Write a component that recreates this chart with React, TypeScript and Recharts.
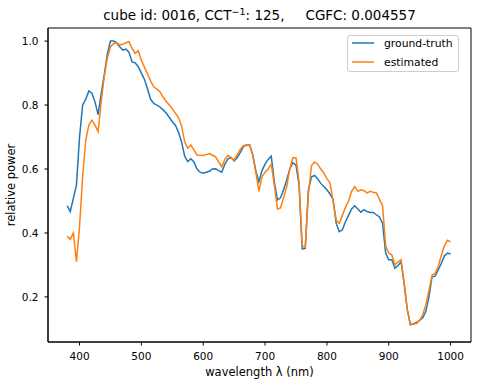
import React from 'react';
import { LineChart, Line, XAxis, YAxis, ReferenceArea } from 'recharts';

const wavelengths = [
  380, 385, 390, 395, 400, 405, 410, 415, 420, 425,
  430, 435, 440, 445, 450, 455, 460, 465, 470, 475,
  480, 485, 490, 495, 500, 505, 510, 515, 520, 525,
  530, 535, 540, 545, 550, 555, 560, 565, 570, 575,
  580, 585, 590, 595, 600, 605, 610, 615, 620, 625,
  630, 635, 640, 645, 650, 655, 660, 665, 670, 675,
  680, 685, 690, 695, 700, 705, 710, 715, 720, 725,
  730, 735, 740, 745, 750, 755, 760, 765, 770, 775,
  780, 785, 790, 795, 800, 805, 810, 815, 820, 825,
  830, 835, 840, 845, 850, 855, 860, 865, 870, 875,
  880, 885, 890, 895, 900, 905, 910, 915, 920, 925,
  930, 935, 940, 945, 950, 955, 960, 965, 970, 975,
  980, 985, 990, 995, 1000,
];

const groundTruth = [
  0.485, 0.467, 0.508, 0.55, 0.70, 0.80, 0.818, 0.844, 0.837, 0.81,
  0.77, 0.835, 0.895, 0.96, 1.0, 1.0, 0.995, 0.982, 0.972, 0.975,
  0.965, 0.935, 0.932, 0.92, 0.90, 0.88, 0.85, 0.818, 0.805, 0.80,
  0.794, 0.785, 0.775, 0.762, 0.748, 0.737, 0.715, 0.685, 0.64, 0.623,
  0.632, 0.622, 0.60, 0.59, 0.587, 0.59, 0.593, 0.60, 0.601, 0.595,
  0.59, 0.615, 0.632, 0.636, 0.625, 0.635, 0.652, 0.67, 0.675, 0.675,
  0.645, 0.595, 0.56, 0.595, 0.615, 0.63, 0.64, 0.56, 0.503, 0.51,
  0.535, 0.566, 0.60, 0.62, 0.612, 0.55, 0.35, 0.352, 0.534, 0.575,
  0.58, 0.57, 0.555, 0.545, 0.535, 0.522, 0.505, 0.43, 0.404, 0.41,
  0.435, 0.455, 0.475, 0.485, 0.475, 0.465, 0.473, 0.467, 0.464, 0.464,
  0.457, 0.45, 0.43, 0.337, 0.316, 0.316, 0.29, 0.298, 0.31, 0.24,
  0.16, 0.113, 0.116, 0.12, 0.127, 0.135, 0.155, 0.20, 0.263, 0.265,
  0.285, 0.305, 0.328, 0.337, 0.334,
];

const estimated = [
  0.39, 0.38, 0.40, 0.31, 0.42, 0.576, 0.69, 0.737, 0.753, 0.737,
  0.717, 0.81, 0.89, 0.948, 0.982, 0.992, 0.995, 0.988, 0.99, 0.995,
  0.998, 0.977, 0.962, 0.97, 0.94, 0.918, 0.897, 0.875, 0.857, 0.85,
  0.842, 0.825, 0.812, 0.80, 0.788, 0.775, 0.76, 0.735, 0.685, 0.665,
  0.675, 0.66, 0.644, 0.643, 0.642, 0.645, 0.648, 0.643, 0.638, 0.622,
  0.607, 0.63, 0.643, 0.635, 0.628, 0.645, 0.662, 0.673, 0.675, 0.675,
  0.645, 0.59, 0.53, 0.576, 0.59, 0.60, 0.615, 0.55, 0.475, 0.478,
  0.51, 0.545, 0.60, 0.635, 0.635, 0.56, 0.36, 0.355, 0.52, 0.61,
  0.622, 0.615, 0.60, 0.587, 0.57, 0.556, 0.50, 0.44, 0.43, 0.455,
  0.48, 0.50, 0.53, 0.545, 0.53, 0.535, 0.532, 0.525, 0.53, 0.527,
  0.525, 0.505, 0.485, 0.36, 0.337, 0.331, 0.30, 0.31, 0.316, 0.24,
  0.16, 0.113, 0.115, 0.117, 0.127, 0.145, 0.175, 0.22, 0.268, 0.274,
  0.295, 0.33, 0.36, 0.377, 0.372,
];

const xTicks = [400, 500, 600, 700, 800, 900, 1000];
const yTicks = [0.2, 0.4, 0.6, 0.8, 1.0];

const seriesNames = { gt: 'ground-truth', est: 'estimated' };
const colors = { gt: '#1f77b4', est: '#ff7f0e' };

const data = wavelengths.map((w, i) => ({ w, gt: groundTruth[i], est: estimated[i] }));

const FONT = "'DejaVu Sans', sans-serif";
const X_DOMAIN: [number, number] = [349, 1033];
const Y_DOMAIN: [number, number] = [0.059, 1.041];

export default function App() {
  const tickStyle = { fill: '#000', fontSize: 10.5, fontFamily: FONT };
  return (
    <div style={{ position: 'absolute', left: 0, top: 0, width: 480, height: 385, background: '#fff' }}>
      <LineChart width={480} height={385} data={data} margin={{ top: 28, right: 9, bottom: 13, left: 8 }}>
        <XAxis
          dataKey="w"
          type="number"
          domain={X_DOMAIN}
          ticks={xTicks}
          interval={0}
          allowDataOverflow
          height={30}
          tickSize={3.5}
          tickMargin={7}
          stroke="#000"
          tick={tickStyle}
        />
        <YAxis
          type="number"
          domain={Y_DOMAIN}
          ticks={yTicks}
          interval={0}
          allowDataOverflow
          width={40}
          tickSize={3.5}
          tickMargin={6}
          tickFormatter={(v: number) => v.toFixed(1)}
          stroke="#000"
          tick={tickStyle}
        />
        <ReferenceArea
          x1={X_DOMAIN[0]}
          x2={X_DOMAIN[1]}
          y1={Y_DOMAIN[0]}
          y2={Y_DOMAIN[1]}
          fill="none"
          fillOpacity={0}
          stroke="#000"
          strokeWidth={1}
          ifOverflow="visible"
        />
        <Line
          type="linear"
          dataKey="gt"
          name={seriesNames.gt}
          stroke={colors.gt}
          strokeWidth={1.5}
          dot={false}
          isAnimationActive={false}
        />
        <Line
          type="linear"
          dataKey="est"
          name={seriesNames.est}
          stroke={colors.est}
          strokeWidth={1.5}
          dot={false}
          isAnimationActive={false}
        />
      </LineChart>
      <svg
        width={480}
        height={385}
        style={{ position: 'absolute', left: 0, top: 0, pointerEvents: 'none' }}
        fontFamily={FONT}
      >
        <text x={259.5} y={19.5} textAnchor="middle" fontSize={13.5} fill="#000">
          {'cube id: 0016, CCT'}
          <tspan dy={-5} fontSize={9.5}>{'\u22121'}</tspan>
          <tspan dy={5}>{': 125,'}</tspan>
          <tspan dx={21}>{'CGFC: 0.004557'}</tspan>
        </text>
        <text x={259.5} y={375.5} textAnchor="middle" fontSize={11.5} fill="#000">
          {'wavelength \u03bb (nm)'}
        </text>
        <text
          transform="translate(10.5,185) rotate(-90)"
          textAnchor="middle"
          dominantBaseline="central"
          fontSize={11.5}
          fill="#000"
        >
          {'relative power'}
        </text>
        <rect x={347.5} y={35.5} width={111} height={36} rx={2.5} fill="#fff" fillOpacity={0.8} stroke="#cccccc" />
        <line x1={352} x2={374} y1={43} y2={43} stroke={colors.gt} strokeWidth={1.5} />
        <line x1={352} x2={374} y1={62} y2={62} stroke={colors.est} strokeWidth={1.5} />
        <text x={384} y={46.5} fontSize={10.8} fill="#000">{seriesNames.gt}</text>
        <text x={384} y={65.5} fontSize={10.8} fill="#000">{seriesNames.est}</text>
      </svg>
    </div>
  );
}
